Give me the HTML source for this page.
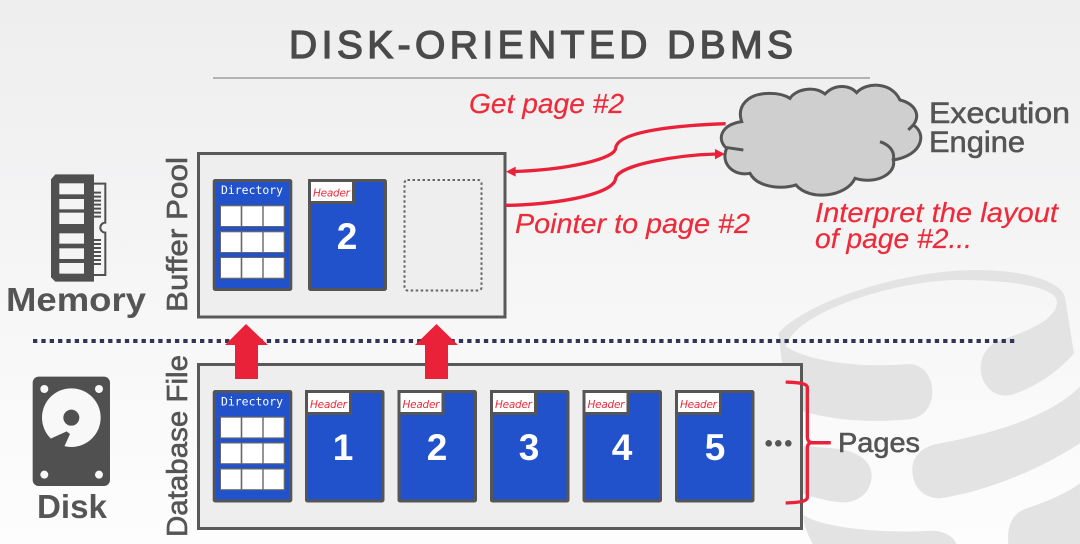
<!DOCTYPE html>
<html><head><meta charset="utf-8"><style>
html,body{margin:0;padding:0;background:#f4f4f5}
svg{display:block}
text{font-family:"Liberation Sans",sans-serif}
.r{fill:#ed2b3a;stroke:#ed2b3a;stroke-width:.2px;font-style:italic;font-size:27.500px}
.g{fill:#555;stroke:#555;stroke-width:.6px}
.n{fill:#fff;font-weight:bold;font-size:37px;text-anchor:middle}
.h{fill:#ed2b3a;font-family:"DejaVu Sans",sans-serif;font-style:italic;font-size:10.5px}
.d{fill:#fff;font-family:"DejaVu Sans Mono",monospace;font-size:11.4px}
</style></head><body>
<svg width="1080" height="544" viewBox="0 0 1080 544" xmlns="http://www.w3.org/2000/svg">
<defs>
<linearGradient id="bg" x1="0" y1="0" x2="0" y2="1">
<stop offset="0" stop-color="#eeeeee"/><stop offset=".35" stop-color="#f3f3f4"/><stop offset=".65" stop-color="#f8f8f8"/><stop offset="1" stop-color="#fdfdfd"/>
</linearGradient>
</defs>
<rect width="1080" height="544" fill="url(#bg)"/>
<!-- watermark -->
<g transform="translate(660,290) scale(.3333)" fill="#e3e3e3">
<path d="M356 130C430 40 720 -60 951 -60C1080 -60 1200 -30 1215 21L1242 190C1200 240 1130 290 1060 313C1000 330 960 280 962 230C965 190 990 165 1010 155C1100 125 1190 90 1191 36C1190 -10 1050 -30 900 -30C700 -30 400 70 378 170C450 215 600 235 745 222C790 222 817 260 817 305C817 350 790 385 745 388C620 400 480 390 380 345Z"/>
<path d="M430 468L520 475C600 480 635 520 635 555C635 610 590 640 545 637C510 635 470 625 430 612Z"/>
<path d="M840 460C1000 430 1170 380 1260 290L1260 460C1150 530 1000 600 840 625C790 625 757 590 757 540C757 495 790 468 840 460Z"/>
<path d="M430 675C500 720 700 730 820 722C860 725 885 745 890 765L460 765C440 730 430 700 430 675Z"/>
<path d="M1045 765C1040 700 1060 670 1100 655C1160 635 1220 610 1260 580L1260 765Z"/>
</g>
<!-- title -->
<text x="289" y="58" font-size="39" fill="#4a4a4a" stroke="#4a4a4a" stroke-width="1.300" textLength="504" lengthAdjust="spacing">DISK-ORIENTED DBMS</text>
<rect x="213" y="77" width="657" height="2" fill="#b2b2b2"/>
<!-- dotted divider -->
<line x1="33" y1="341" x2="1015" y2="341" stroke="#33325a" stroke-width="4" stroke-dasharray="4.3 4.05"/>
<!-- boxes -->
<rect x="198.500" y="153.500" width="306.500" height="163.500" fill="#eee" stroke="#595959" stroke-width="3"/>
<rect x="198.500" y="364.500" width="603" height="164" fill="#eee" stroke="#595959" stroke-width="3"/>
<!-- up arrows -->
<path d="M246 324L268 345H258V379H235V345H225Z" fill="#e9223a"/>
<path d="M436.500 324L458 345H448V379H425V345H415Z" fill="#e9223a"/>
<!-- buffer dir -->
<rect x="214.200" y="180.500" width="76.600" height="109" fill="#2152cb" stroke="#555" stroke-width="3" rx="1"/>
<text class="d" x="221" y="194" textLength="62">Directory</text>
<g fill="#666">
<rect x="220" y="205" width="65" height="22"/><rect x="220" y="231" width="65" height="22"/><rect x="220" y="257" width="65" height="22"/>
</g>
<g fill="#fff">
<rect x="221" y="206.300" width="19.700" height="19.700"/><rect x="242.300" y="206.300" width="20" height="19.700"/><rect x="263.700" y="206.300" width="20" height="19.700"/>
<rect x="221" y="232.300" width="19.700" height="19.700"/><rect x="242.300" y="232.300" width="20" height="19.700"/><rect x="263.700" y="232.300" width="20" height="19.700"/>
<rect x="221" y="258" width="19.700" height="19.700"/><rect x="242.300" y="258" width="20" height="19.700"/><rect x="263.700" y="258" width="20" height="19.700"/>
</g>
<!-- buffer page 2 -->
<rect x="309.500" y="180.500" width="76" height="109" fill="#2152cb" stroke="#555" stroke-width="3" rx="1"/>
<rect x="309.500" y="180.500" width="44" height="22" fill="#fff" stroke="#555" stroke-width="3"/>
<text class="h" x="313" y="196.500" textLength="37">Header</text>
<text class="n" x="347" y="249">2</text>
<rect x="404.500" y="180" width="77" height="110.500" rx="3" fill="none" stroke="#666" stroke-width="2" stroke-dasharray="2.500 2.500"/>
<!-- db dir -->
<rect x="214.200" y="391.500" width="76.600" height="109.500" fill="#2152cb" stroke="#555" stroke-width="3" rx="1"/>
<text class="d" x="221" y="405.500" textLength="62">Directory</text>
<g fill="#666">
<rect x="220" y="416.500" width="65" height="22"/><rect x="220" y="442.300" width="65" height="22"/><rect x="220" y="468.300" width="65" height="22"/>
</g>
<g fill="#fff">
<rect x="221" y="417.700" width="19.700" height="19.700"/><rect x="242.300" y="417.700" width="20" height="19.700"/><rect x="263.700" y="417.700" width="20" height="19.700"/>
<rect x="221" y="443.500" width="19.700" height="19.700"/><rect x="242.300" y="443.500" width="20" height="19.700"/><rect x="263.700" y="443.500" width="20" height="19.700"/>
<rect x="221" y="469.500" width="19.700" height="19.700"/><rect x="242.300" y="469.500" width="20" height="19.700"/><rect x="263.700" y="469.500" width="20" height="19.700"/>
</g>
<!-- db pages -->
<g>
<rect x="306.500" y="391.500" width="76.500" height="109.500" fill="#2152cb" stroke="#555" stroke-width="3" rx="1"/>
<rect x="306.500" y="391.500" width="44" height="22" fill="#fff" stroke="#555" stroke-width="3"/>
<text class="h" x="310" y="408" textLength="37">Header</text>
<text class="n" x="343" y="460">1</text>
<rect x="399" y="391.500" width="76.500" height="109.500" fill="#2152cb" stroke="#555" stroke-width="3" rx="1"/>
<rect x="399" y="391.500" width="44" height="22" fill="#fff" stroke="#555" stroke-width="3"/>
<text class="h" x="402.500" y="408" textLength="37">Header</text>
<text class="n" x="437" y="460">2</text>
<rect x="491.500" y="391.500" width="76.500" height="109.500" fill="#2152cb" stroke="#555" stroke-width="3" rx="1"/>
<rect x="491.500" y="391.500" width="44" height="22" fill="#fff" stroke="#555" stroke-width="3"/>
<text class="h" x="495" y="408" textLength="37">Header</text>
<text class="n" x="529" y="460">3</text>
<rect x="584" y="391.500" width="76.500" height="109.500" fill="#2152cb" stroke="#555" stroke-width="3" rx="1"/>
<rect x="584" y="391.500" width="44" height="22" fill="#fff" stroke="#555" stroke-width="3"/>
<text class="h" x="587.500" y="408" textLength="37">Header</text>
<text class="n" x="622" y="460">4</text>
<rect x="676.500" y="391.500" width="76.500" height="109.500" fill="#2152cb" stroke="#555" stroke-width="3" rx="1"/>
<rect x="676.500" y="391.500" width="44" height="22" fill="#fff" stroke="#555" stroke-width="3"/>
<text class="h" x="680" y="408" textLength="37">Header</text>
<text class="n" x="715" y="460">5</text>
</g>
<circle cx="768.700" cy="443.300" r="3.300" fill="#555"/><circle cx="778.300" cy="443.300" r="3.300" fill="#555"/><circle cx="788.300" cy="443.300" r="3.300" fill="#555"/>
<!-- brace -->
<g transform="translate(660,290) scale(.3333)" fill="none" stroke="#e9223a" stroke-width="10">
<path d="M377 276C410 278 440 278 442 292L442 440C442 450 445 456 455 458L512 458"/>
<path d="M512 458L455 458C445 460 442 465 442 475L442 622C442 635 410 638 377 639"/>
</g>
<text class="g" x="838" y="452" font-size="28" textLength="82" lengthAdjust="spacingAndGlyphs">Pages</text>
<!-- connectors -->
<g transform="translate(460,80) scale(.3333)">
<path d="M797 131C680 135 470 150 467 205C465 235 330 270 150 275" fill="none" stroke="#e9223a" stroke-width="10"/>
<path d="M138 275L167 260V290Z" fill="#e9223a"/>
<path d="M137 376C250 376 460 350 467 295C475 255 650 225 770 222" fill="none" stroke="#e9223a" stroke-width="10"/>
<path d="M795 222L765 207V238Z" fill="#e9223a"/>
</g>
<!-- cloud -->
<g transform="translate(710,70) scale(.3333)" stroke="#555" stroke-width="9" fill="none">
<path fill="#cfcfcf" d="M95 155C80 110 110 70 180 70C205 70 225 75 240 85C255 60 310 45 345 72C375 40 420 45 440 68C470 35 545 35 570 90C610 100 635 130 610 165C650 190 640 255 550 270C560 310 500 345 435 325C410 380 300 395 258 345C210 360 140 350 120 310C70 320 30 280 50 235C20 210 30 165 95 155Z"/>
<path d="M45 232L100 240M510 215C540 225 555 245 550 270M595 180L610 165M95 155L92 150"/>
</g>
<text class="g" x="929" y="123" font-size="30" textLength="141" lengthAdjust="spacingAndGlyphs">Execution</text>
<text class="g" x="929" y="152" font-size="30" textLength="96" lengthAdjust="spacingAndGlyphs">Engine</text>
<!-- red text -->
<text class="r" x="469" y="113" textLength="155" lengthAdjust="spacingAndGlyphs">Get page #2</text>
<text class="r" x="515" y="233" textLength="235" lengthAdjust="spacingAndGlyphs">Pointer to page #2</text>
<text class="r" x="815" y="222" textLength="243" lengthAdjust="spacingAndGlyphs">Interpret the layout</text>
<text class="r" x="815" y="248" textLength="157" lengthAdjust="spacingAndGlyphs">of page #2...</text>
<!-- vertical labels -->
<text class="g" transform="translate(187,312) rotate(-90)" font-size="29" textLength="155" lengthAdjust="spacingAndGlyphs">Buffer Pool</text>
<text class="g" transform="translate(187,537) rotate(-90)" font-size="29" textLength="182" lengthAdjust="spacingAndGlyphs">Database File</text>
<!-- memory icon -->
<g transform="translate(0,140) scale(.3333)">
<path d="M153 118L166 103H282V425H166L153 412Z" fill="#505050"/>
<g fill="#f4f4f5">
<rect x="178" y="130" width="74" height="33"/><rect x="178" y="177" width="74" height="31"/><rect x="178" y="218" width="74" height="34"/><rect x="178" y="280" width="74" height="31"/><rect x="178" y="325" width="74" height="32"/><rect x="178" y="369" width="74" height="32"/>
</g>
<path d="M282 131H316V248A14 14 0 0 0 316 278V405H282" fill="none" stroke="#505050" stroke-width="6"/>
<path d="M282 158H303M282 170H303M282 182H303M282 194H303M282 206H303M282 218H303M282 230H303M282 300H303M282 312H303M282 324H303M282 336H303M282 348H303M282 360H303M282 372H303" stroke="#505050" stroke-width="6"/>
</g>
<text x="6" y="311" font-size="33" font-weight="bold" fill="#555" textLength="140" lengthAdjust="spacingAndGlyphs">Memory</text>
<!-- disk icon -->
<g transform="translate(0,340) scale(.3333)">
<rect x="98" y="110" width="232" height="328" rx="18" fill="#505050"/>
<g fill="#f8f8f8">
<circle cx="133" cy="147" r="12"/><circle cx="297" cy="147" r="12"/><circle cx="133" cy="404" r="12"/><circle cx="297" cy="404" r="12"/>
<circle cx="214" cy="233" r="88"/>
</g>
<circle cx="214" cy="233" r="24" fill="#505050"/>
<path d="M152 296L200 274L210 282L190 326L150 330Z" fill="#505050"/>
</g>
<text x="37" y="518" font-size="33" font-weight="bold" fill="#555" textLength="70" lengthAdjust="spacingAndGlyphs">Disk</text>
</svg>
</body></html>
